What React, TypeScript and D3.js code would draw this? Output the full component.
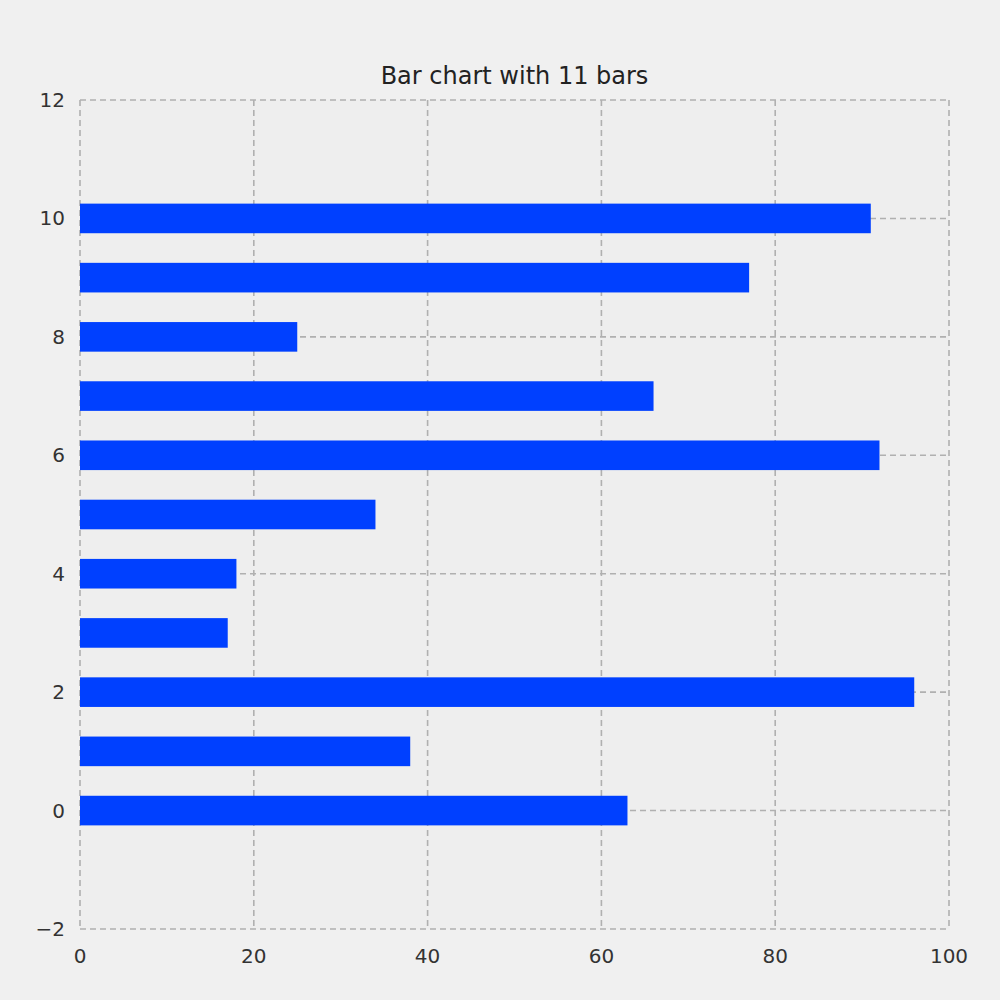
import React from 'react';
import * as d3 from 'd3';

const positions = [0, 1, 2, 3, 4, 5, 6, 7, 8, 9, 10];
const values = [63, 38, 96, 17, 18, 34, 92, 66, 25, 77, 91];
const xTicks = [0, 20, 40, 60, 80, 100];
const yTicks = [-2, 0, 2, 4, 6, 8, 10, 12];
const title = 'Bar chart with 11 bars';

export default function App() {
    const width = 1000, height = 1000;
    const margin = { top: 100, right: 51, bottom: 71, left: 80 };
    const x = d3.scaleLinear().domain([0, 100]).range([margin.left, width - margin.right]);
    const y = d3.scaleLinear().domain([-2, 12]).range([height - margin.bottom, margin.top]);
    const barH = y(0) - y(0.5);
    const font = 'DejaVu Sans, sans-serif';
    const gridStyle = { stroke: '#b0b0b0', strokeWidth: 1.6, strokeDasharray: '6,4', fill: 'none' };

    return (
        <svg width={width} height={height} style={{ position: 'absolute', left: 0, top: 0 }}>
            <rect width={width} height={height} fill="#f0f0f0" />
            <rect x={x(0)} y={y(12)} width={x(100) - x(0)} height={y(-2) - y(12)} fill="#eeeeee" />
            {xTicks.map(t => (
                <line key={'gx' + t} x1={x(t)} x2={x(t)} y1={y(12)} y2={y(-2)} style={gridStyle} />
            ))}
            {yTicks.map(t => (
                <line key={'gy' + t} x1={x(0)} x2={x(100)} y1={y(t)} y2={y(t)} style={gridStyle} />
            ))}
            {positions.map((p, i) => (
                <rect key={p} x={x(0)} y={y(p) - barH / 2} width={x(values[i]) - x(0)} height={barH} fill="#0040ff" />
            ))}
            {xTicks.map(t => (
                <text key={'tx' + t} x={x(t)} y={y(-2) + 34} textAnchor="middle" fontSize={20} fontFamily={font} fill="#333">{t}</text>
            ))}
            {yTicks.map(t => (
                <text key={'ty' + t} x={x(0) - 15} y={y(t) + 7} textAnchor="end" fontSize={20} fontFamily={font} fill="#333">{t < 0 ? '\u2212' + Math.abs(t) : t}</text>
            ))}
            <text x={(x(0) + x(100)) / 2} y={y(12) - 16} textAnchor="middle" fontSize={24} fontFamily={font} fill="#222">{title}</text>
        </svg>
    );
}
